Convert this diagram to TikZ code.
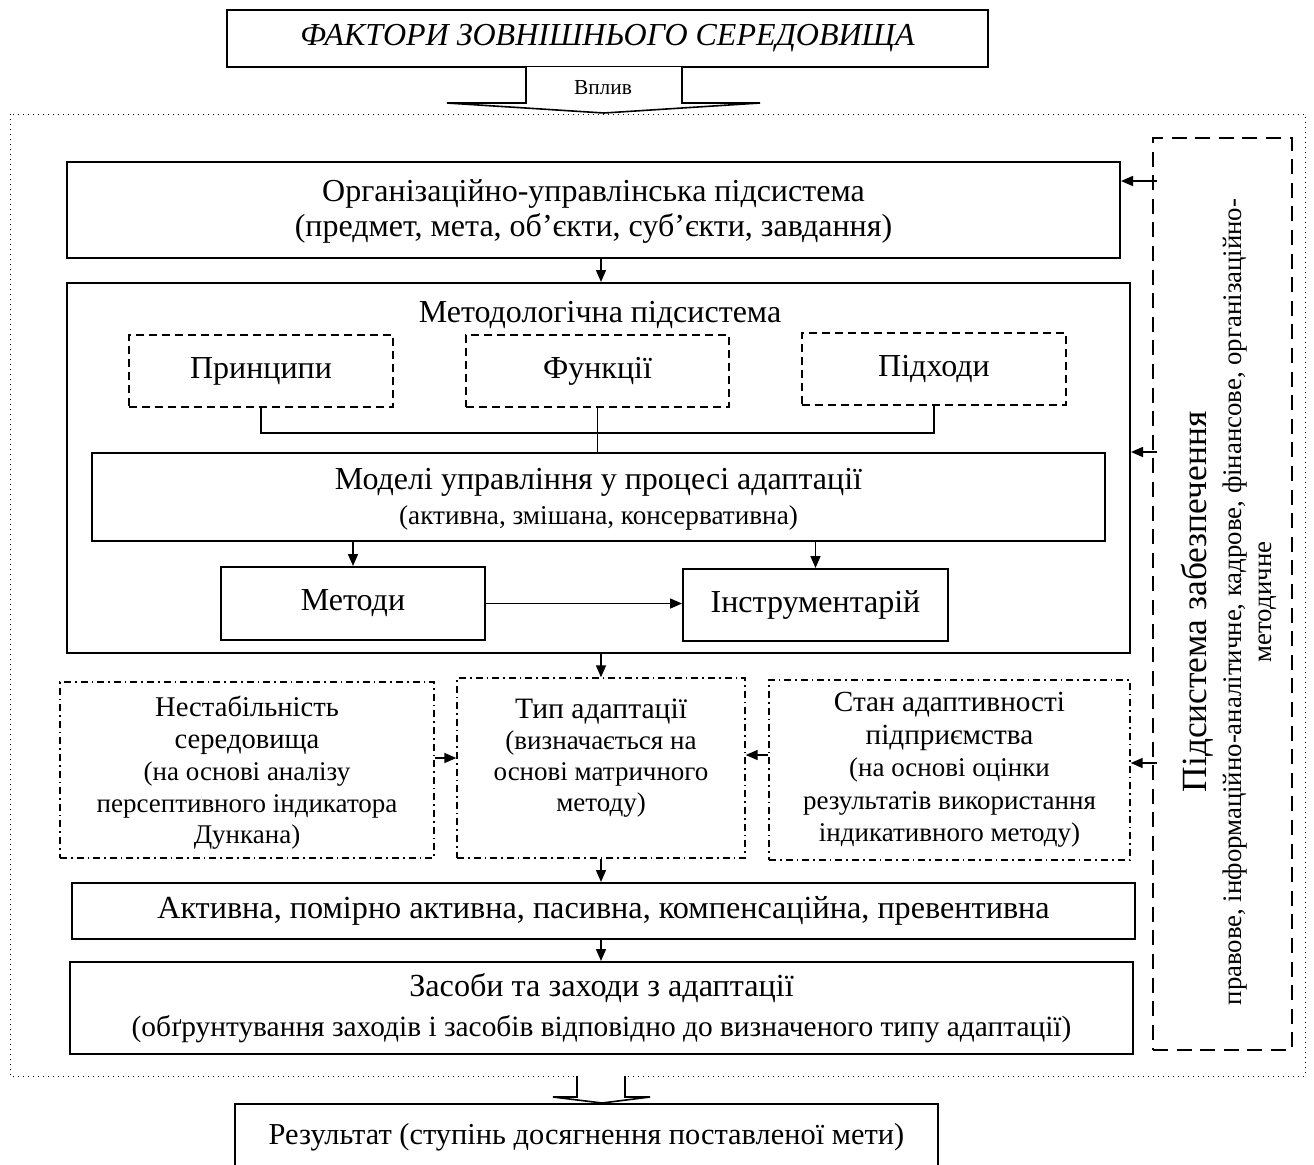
\documentclass[tikz,border=0pt]{standalone}
\usepackage{fontspec}
\setmainfont{Liberation Serif}
\usetikzlibrary{arrows.meta}
\newcommand{\fs}[2]{\fontsize{#1}{#2}\selectfont}
\begin{document}
\begin{tikzpicture}[x=0.5pt,y=-0.5pt,
  box/.style={draw, line width=1pt, inner sep=0pt, align=center},
  dashbox/.style={draw, line width=0.8pt, dash pattern=on 4pt off 2.5pt, inner sep=0pt, align=center},
  dotdash/.style={draw, line width=0.7pt, dash pattern=on 3.5pt off 2pt on 0.8pt off 2pt, inner sep=0pt, align=center},
  longdash/.style={draw, line width=0.8pt, dash pattern=on 7.5pt off 4.3pt, inner sep=0pt},
  arr/.style={line width=0.8pt, -{Triangle[length=6pt,width=5pt]}},
  link/.style={line width=0.8pt}]
\useasboundingbox (0,0) rectangle (1314,1164);

% outer frame
\draw[line width=0.5pt, dotted] (10,114) rectangle (1305,1076);

\node[box, minimum width=380.5pt, minimum height=28.5pt, font=\fs{16}{19}\itshape] (factors) at (607.5,38.5)
  {ФАКТОРИ ЗОВНІШНЬОГО СЕРЕДОВИЩА};
\filldraw[fill=white, line width=0.8pt] (526,67)--(526,103)--(447,103)--(604,113)--(760,103)--(682,103)--(682,67);
\node[font=\fs{10.7}{12}] (vplyv) at (603,88) {Вплив};

\node[box, minimum width=526.5pt, minimum height=48pt, font=\fs{16}{17.5}, text depth=2pt] (org) at (593.5,210)
  {Організаційно-управлінська підсистема\\ (предмет, мета, об’єкти, суб’єкти, завдання)};

\node[box, minimum width=531.5pt, minimum height=185pt] (metod) at (598.5,468) {};
\node[font=\fs{16}{19}] (metodtitle) at (600,315) {Методологічна підсистема};
\node[dashbox, minimum width=132pt, minimum height=36pt, font=\fs{16}{19}] (pryn) at (261,371) {Принципи};
\node[dashbox, minimum width=131.5pt, minimum height=36pt, font=\fs{16}{19}] (funk) at (597.5,371) {Функції};
\node[dashbox, minimum width=132pt, minimum height=36pt, font=\fs{16}{19}] (pidh) at (934,369) {Підходи};
\coordinate (bus) at (0,433);
\draw[link] (pryn.south) -- (pryn.south |- bus) -| (pidh.south);

\node[box, minimum width=506.5pt, minimum height=44pt, font=\fs{16}{17.5}, text depth=1pt] (model) at (598.5,497)
  {Моделі управління у процесі адаптації\\ \fs{13.6}{17.5}(активна, змішана, консервативна)};
\draw[link] (funk.south) -- (funk.south |- model.north);

\node[box, minimum width=132pt, minimum height=36.5pt, font=\fs{16}{19}] (metody) at (353,603.5) {Методи};
\node[box, minimum width=132.5pt, minimum height=36pt, font=\fs{16}{19}] (instr) at (815.5,605) {Інструментарій};
\draw[arr] (metody.north |- model.south) -- (metody.north);
\draw[arr] (instr.north |- model.south) -- (instr.north);
\draw[arr] (metody.east) -- (metody.east -| instr.west);

\node[dotdash, minimum width=187pt, minimum height=88pt, font=\fs{13.5}{15.9}, text depth=0pt] (nestab) at (247,770)
  {\fs{14.3}{15.9}Нестабільність\\ \fs{14.3}{15.9}середовища\\ (на основі аналізу\\ персептивного індикатора\\ Дункана)};
\node[dotdash, minimum width=144pt, minimum height=90pt, font=\fs{13.5}{15.5}, text depth=13pt] (typ) at (601,768)
  {\fs{14.8}{15.5}Тип адаптації\\ (визначається на\\ основі матричного\\ методу)};
\node[dotdash, minimum width=180.5pt, minimum height=90pt, font=\fs{13.5}{16.2}] (stan) at (949.5,770)
  {\fs{14.6}{16.2}Стан адаптивності\\ \fs{14.6}{16.2}підприємства\\ (на основі оцінки\\ результатів використання\\ індикативного методу)};

\draw[arr] (org.south -| typ) -- (metod.north -| typ);
\draw[arr] (metod.south -| typ) -- (typ.north);
\draw[arr] ([yshift=6pt]nestab.east) -- ([yshift=6pt]nestab.east -| typ.west);
\draw[arr] ([yshift=7.5pt]stan.west) -- ([yshift=7.5pt]stan.west -| typ.east);

\node[box, minimum width=531.5pt, minimum height=28pt, font=\fs{16.1}{19}] (aktyv) at (603.5,911)
  {Активна, помірно активна, пасивна, компенсаційна, превентивна};
\node[box, minimum width=531.5pt, minimum height=46pt, font=\fs{14.7}{20}] (zasoby) at (601.5,1008)
  {\fs{16.1}{20}Засоби та заходи з адаптації\\ (обґрунтування заходів і засобів відповідно до визначеного типу адаптації)};
\draw[arr] (typ.south) -- (typ.south |- aktyv.north);
\draw[arr] (typ.south |- aktyv.south) -- (typ.south |- zasoby.north);

% supporting subsystem
\node[longdash, minimum width=69.5pt, minimum height=456pt] (support) at (1222.5,594) {};
\node[rotate=90, align=center, font=\fs{13.4}{15}] (supptext) at (1229,602)
  {\fs{17.7}{15}Підсистема забезпечення\\[2.5pt] правове, інформаційно-аналітичне, кадрове, фінансове, організаційно-\\ методичне};
\draw[arr] ([xshift=2.5pt,yshift=14.5pt]org.east -| support.west) -- ([yshift=14.5pt]org.east);
\draw[arr] ([xshift=2.5pt,yshift=8pt]metod.east -| support.west) -- ([yshift=8pt]metod.east);
\draw[arr] ([xshift=2.5pt,yshift=3.5pt]stan.east -| support.west) -- ([yshift=3.5pt]stan.east);

% result
\filldraw[fill=white, line width=0.8pt] (577,1076)--(577,1097)--(553,1097)--(602,1103)--(650,1097)--(625,1097)--(625,1076);
\node[box, minimum width=351.5pt, minimum height=33pt, font=\fs{15.2}{18}] (result) at (586.5,1137)
  {Результат (ступінь досягнення поставленої мети)};
\end{tikzpicture}
\end{document}
